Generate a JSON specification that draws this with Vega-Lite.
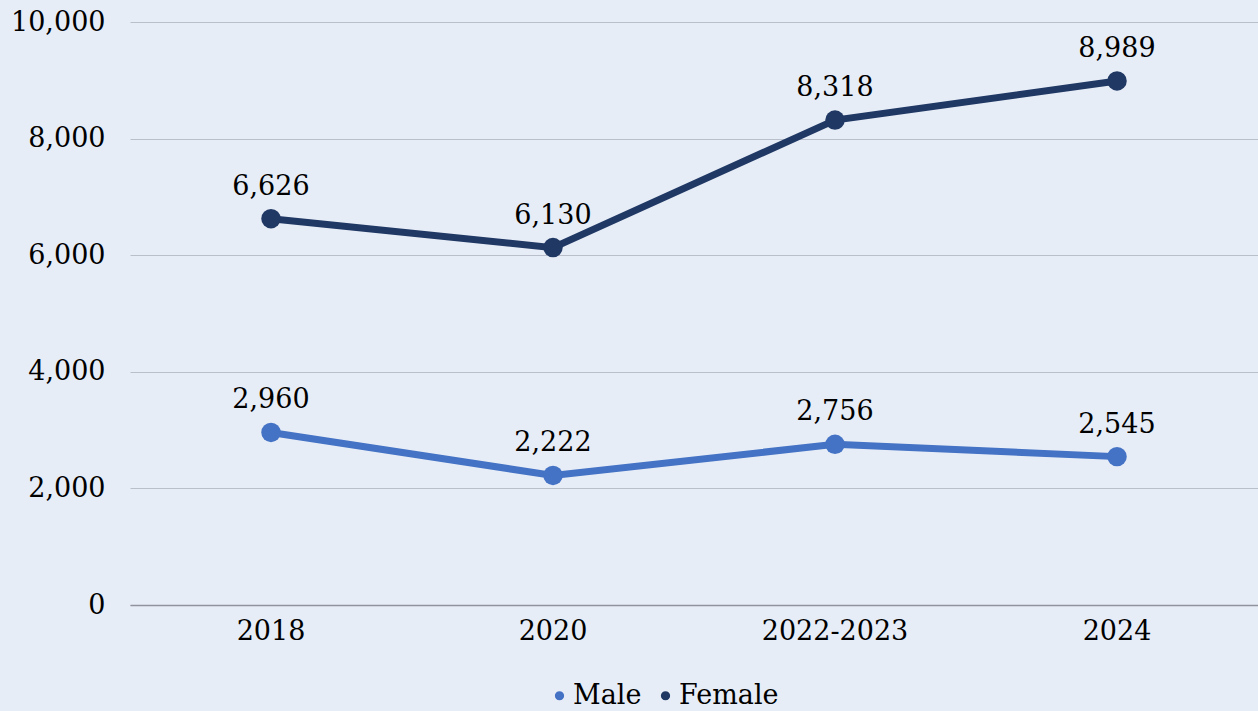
{
  "$schema": "https://vega.github.io/schema/vega-lite/v6.json",
  "width": 1128,
  "height": 583,
  "autosize": {"type": "none"},
  "padding": {"left": 130, "top": 22, "right": 0, "bottom": 106},
  "background": "#e7edf7",
  "config": {
    "view": {"stroke": null},
    "font": "DejaVu Serif"
  },
  "data": {
    "values": [
      {"year": "2018", "sex": "Male", "value": 2960},
      {"year": "2020", "sex": "Male", "value": 2222},
      {"year": "2022-2023", "sex": "Male", "value": 2756},
      {"year": "2024", "sex": "Male", "value": 2545},
      {"year": "2018", "sex": "Female", "value": 6626},
      {"year": "2020", "sex": "Female", "value": 6130},
      {"year": "2022-2023", "sex": "Female", "value": 8318},
      {"year": "2024", "sex": "Female", "value": 8989}
    ]
  },
  "encoding": {
    "x": {
      "field": "year", "type": "nominal", "sort": null,
      "scale": {"type": "band", "paddingInner": 0, "paddingOuter": 0},
      "axis": {"title": null, "labelAngle": 0, "labelFontSize": 27, "labelColor": "#000000",
               "labelPadding": 13, "ticks": false, "domainColor": "#8e939c", "domainWidth": 1.5, "grid": false,
               "labelFont": "DejaVu Serif"}
    },
    "y": {
      "field": "value", "type": "quantitative",
      "scale": {"domain": [0, 10000], "nice": false},
      "axis": {"title": null, "values": [0, 2000, 4000, 6000, 8000, 10000],
               "labelExpr": "format(datum.value, ',')", "labelOverlap": false,
               "labelFontSize": 27, "labelColor": "#000000", "labelPadding": 25, "ticks": false, "domain": false,
               "gridColor": "#b9c0cb", "gridWidth": 1.2, "labelFont": "DejaVu Serif"}
    },
    "color": {
      "field": "sex", "type": "nominal",
      "scale": {"domain": ["Male", "Female"], "range": ["#4472c4", "#203864"]},
      "legend": {
        "title": null, "orient": "none", "direction": "horizontal", "legendX": 416, "legendY": 660,
        "symbolType": "circle", "symbolSize": 60, "labelFontSize": 27, "labelColor": "#000000",
        "labelFont": "DejaVu Serif", "symbolOpacity": 1, "columnPadding": 10, "labelOffset": 0
      }
    }
  },
  "layer": [
    {"mark": {"type": "line", "strokeWidth": 7}},
    {"mark": {"type": "point", "filled": true, "size": 380, "opacity": 1}},
    {
      "mark": {"type": "text", "fontSize": 27, "baseline": "bottom", "dy": -18, "color": "#000000",
               "font": "DejaVu Serif"},
      "encoding": {
        "text": {"field": "value", "type": "quantitative", "format": ","},
        "color": {"value": "#000000"}
      }
    }
  ]
}
